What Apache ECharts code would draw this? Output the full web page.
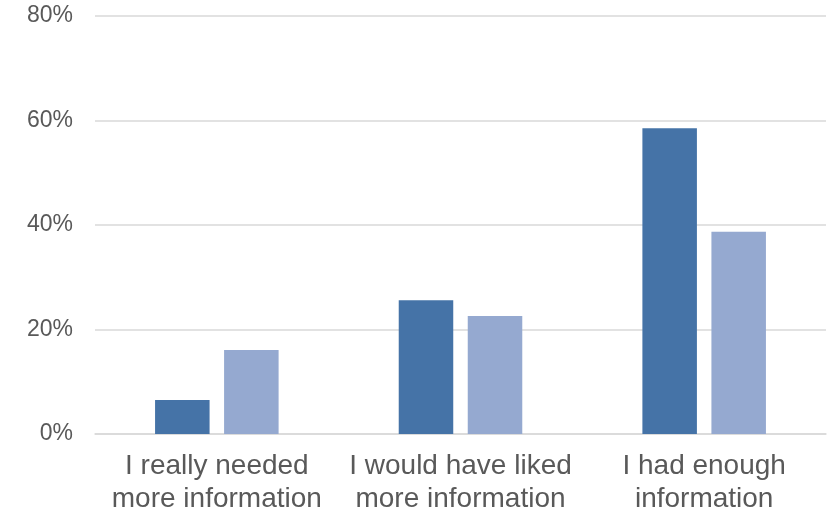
<!DOCTYPE html>
<html>
<head>
<meta charset="utf-8">
<script src="https://cdn.jsdelivr.net/npm/echarts@6/dist/echarts.min.js"></script>
<style>
  html, body { margin: 0; padding: 0; background: #ffffff; }
  #chart { width: 831px; height: 516px; }
</style>
</head>
<body>
<div id="chart"></div>
<script>
// Response categories along the x axis
const categories = [
  'I really needed\nmore information',
  'I would have liked\nmore information',
  'I had enough\ninformation'
];

// Share of respondents (%) per category, two groups
const seriesA = [6.5, 25.6, 58.5];
const seriesB = [16.1, 22.6, 38.7];

// Value-axis range and step (percent)
const yMin = 0;
const yMax = 80;
const yStep = 20;

const chart = echarts.init(document.getElementById('chart'), null, { renderer: 'canvas' });

chart.setOption({
  animation: false,
  backgroundColor: '#ffffff',
  grid: { left: 95, right: 5, top: 16, bottom: 82, containLabel: false },
  xAxis: {
    type: 'category',
    data: categories,
    axisLine: { show: true, lineStyle: { color: '#d9d9d9', width: 1.5 } },
    axisTick: { show: false },
    axisLabel: {
      color: '#595959',
      fontFamily: 'Liberation Sans, Arial, sans-serif',
      fontSize: 28,
      lineHeight: 33,
      margin: 16,
      interval: 0
    }
  },
  yAxis: {
    type: 'value',
    min: yMin,
    max: yMax,
    interval: yStep,
    axisLine: { show: false },
    axisTick: { show: false },
    splitLine: { lineStyle: { color: '#d9d9d9', width: 1.5 } },
    axisLabel: {
      color: '#595959',
      fontFamily: 'Liberation Sans, Arial, sans-serif',
      fontSize: 23,
      margin: 22,
      formatter: v => v + '%'
    }
  },
  series: [
    {
      name: 'Series 1',
      type: 'bar',
      data: seriesA,
      itemStyle: { color: '#4573a7' },
      barGap: '26.6%',
      barCategoryGap: '49.3%'
    },
    {
      name: 'Series 2',
      type: 'bar',
      data: seriesB,
      itemStyle: { color: '#95a9d0' }
    }
  ]
});
</script>
</body>
</html>
